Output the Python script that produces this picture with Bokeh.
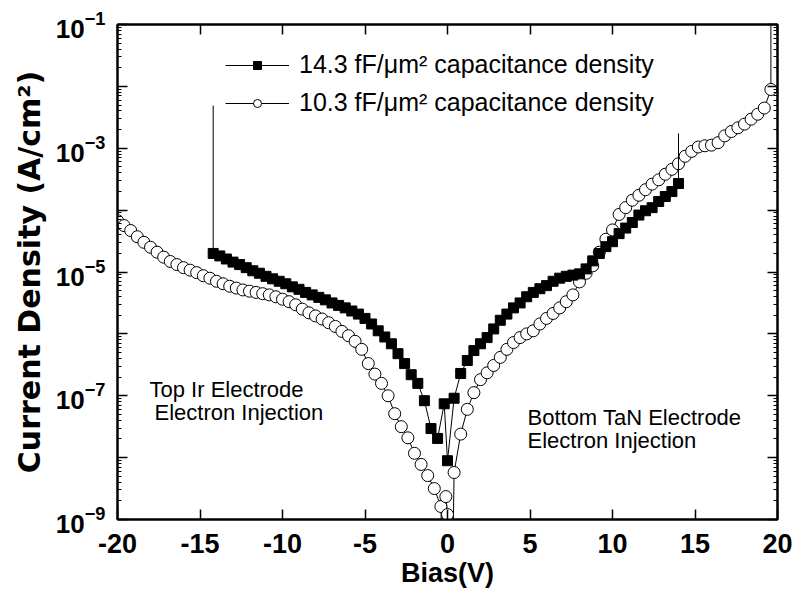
from bokeh.plotting import figure
from bokeh.models import (Range1d, LogAxis, LinearAxis, FixedTicker, Label,
                          Legend, LegendItem)
from bokeh.embed import file_html
from bokeh.resources import INLINE

# ---------------- data ----------------
# 14.3 fF/um^2 sample (filled squares): bias (V) and log10(J [A/cm^2])
sq_bias = [-14.2, -13.8, -13.4, -13.0, -12.6, -12.2, -11.8, -11.4, -11.0, -10.6,
           -10.2, -9.8, -9.4, -9.0, -8.6, -8.2, -7.8, -7.4, -7.0, -6.6,
           -6.2, -5.8, -5.4, -5.0, -4.6, -4.2, -3.8, -3.4, -3.0, -2.6,
           -2.2, -1.8, -1.4, -1.0, -0.6, -0.2, 0.0, 0.4, 0.8, 1.2,
           1.6, 2.0, 2.4, 2.8, 3.2, 3.6, 4.0, 4.4, 4.8, 5.2,
           5.6, 6.0, 6.4, 6.8, 7.2, 7.6, 8.0, 8.4, 8.8, 9.2,
           9.6, 10.0, 10.4, 10.8, 11.2, 11.6, 12.0, 12.4, 12.8, 13.2,
           13.6, 14.0]
sq_log_j = [-4.70, -4.74, -4.79, -4.84, -4.88, -4.93, -4.98, -5.02, -5.07, -5.11,
            -5.15, -5.19, -5.24, -5.28, -5.33, -5.37, -5.41, -5.45, -5.50, -5.54,
            -5.58, -5.63, -5.68, -5.75, -5.84, -5.95, -6.05, -6.16, -6.32, -6.48,
            -6.66, -6.80, -7.08, -7.53, -7.69, -7.13, -8.05, -7.04, -6.64, -6.43,
            -6.27, -6.16, -6.06, -5.92, -5.78, -5.68, -5.58, -5.50, -5.40, -5.33,
            -5.27, -5.22, -5.15, -5.10, -5.07, -5.05, -5.03, -4.95, -4.82, -4.70,
            -4.59, -4.51, -4.38, -4.29, -4.20, -4.08, -4.01, -3.96, -3.86, -3.78,
            -3.70, -3.57]
# breakdown excursions of the square trace (line only, no marker)
sq_start_bias, sq_start_log_j = -14.2, -2.31
sq_end_bias, sq_end_log_j = 14.0, -2.76

# 10.3 fF/um^2 sample (open circles)
circ_bias = [-20.0, -19.6, -19.2, -18.8, -18.4, -18.0, -17.6, -17.2, -16.8, -16.4,
             -16.0, -15.6, -15.2, -14.8, -14.4, -14.0, -13.6, -13.2, -12.8, -12.4,
             -12.0, -11.6, -11.2, -10.8, -10.4, -10.0, -9.6, -9.2, -8.8, -8.4,
             -8.0, -7.6, -7.2, -6.8, -6.4, -6.0, -5.6, -5.2, -4.8, -4.4,
             -4.0, -3.6, -3.2, -2.8, -2.4, -2.0, -1.6, -1.2, -0.8, -0.4,
             -0.1, 0.0,
             0.4, 0.8, 1.2, 1.6, 2.0, 2.4, 2.8, 3.2, 3.6, 4.0,
             4.4, 4.8, 5.2, 5.6, 6.0, 6.4, 6.8, 7.2, 7.6, 8.0,
             8.4, 8.8, 9.2, 9.6, 10.0, 10.4, 10.8, 11.2, 11.6, 12.0,
             12.4, 12.8, 13.2, 13.6, 14.0, 14.4, 14.8, 15.2, 15.6, 16.0,
             16.4, 16.8, 17.2, 17.6, 18.0, 18.4, 18.8, 19.2, 19.6]
circ_log_j = [-4.17, -4.25, -4.33, -4.43, -4.52, -4.60, -4.68, -4.76, -4.83, -4.88,
              -4.93, -4.97, -5.01, -5.06, -5.10, -5.15, -5.19, -5.23, -5.26, -5.29,
              -5.31, -5.33, -5.35, -5.37, -5.40, -5.44, -5.48, -5.53, -5.60, -5.66,
              -5.71, -5.76, -5.82, -5.88, -5.96, -6.03, -6.12, -6.25, -6.48, -6.65,
              -6.80, -7.00, -7.29, -7.50, -7.68, -7.93, -8.11, -8.29, -8.50, -8.79,
              -8.63, -8.92,
              -8.24, -7.62, -7.22, -6.95, -6.74, -6.63, -6.51, -6.38, -6.25, -6.14,
              -6.06, -6.00, -5.95, -5.84, -5.75, -5.67, -5.58, -5.48, -5.37, -5.16,
              -5.02, -4.90, -4.68, -4.47, -4.32, -4.07, -3.96, -3.84, -3.76, -3.67,
              -3.58, -3.51, -3.42, -3.34, -3.25, -3.13, -3.05, -2.98, -2.96, -2.95,
              -2.91, -2.80, -2.73, -2.67, -2.61, -2.53, -2.45, -2.35, -2.05]
# off-scale excursions of the circle trace (line only)
circ_dip_bias = [-0.3, 0.3]
circ_dip_log_j = [-10.0, -10.0]
circ_end_bias, circ_end_log_j = 19.6, 0.0

x_ticks = [-20, -15, -10, -5, 0, 5, 10, 15, 20]
x_tick_labels = ["-20", "-15", "-10", "-5", "0", "5", "10", "15", "20"]
y_decades = [-9, -8, -7, -6, -5, -4, -3, -2, -1]
y_labelled = [-9, -7, -5, -3, -1]

series_labels = ["14.3 fF/\u03bcm\u00b2 capacitance density",
                 "10.3 fF/\u03bcm\u00b2 capacitance density"]
left_note = ["Top Ir Electrode", "Electron Injection"]
right_note = ["Bottom TaN Electrode", "Electron Injection"]

# ---------------- build paths ----------------
sq_j = [10 ** v for v in sq_log_j]
circ_j = [10 ** v for v in circ_log_j]

sq_path_x = [sq_start_bias] + sq_bias + [sq_end_bias]
sq_path_y = [10 ** sq_start_log_j] + sq_j + [10 ** sq_end_log_j]

circ_pts = list(zip(circ_bias, circ_j)) + list(zip(circ_dip_bias, [10 ** v for v in circ_dip_log_j]))
circ_pts = sorted(circ_pts, key=lambda t: t[0])
circ_pts.append((circ_end_bias, 10 ** circ_end_log_j))
circ_path_x = [t[0] for t in circ_pts]
circ_path_y = [t[1] for t in circ_pts]

FONT = "Liberation Sans"

p = figure(width=795, height=592, x_range=Range1d(-20, 20), y_range=Range1d(1e-9, 1e-1),
           y_axis_type="log", output_backend="svg", toolbar_location=None,
           min_border_left=117, min_border_right=18, min_border_top=24, min_border_bottom=73)
p.grid.visible = False
p.outline_line_color = "black"
p.outline_line_width = 2
p.background_fill_color = "white"
p.border_fill_color = "white"

# circles
c_line = p.line(circ_path_x, circ_path_y, line_color="black", line_width=1)
c_pts = p.scatter(circ_bias, circ_j, marker="circle", size=12, fill_color="white",
                  line_color="black", line_width=1)
# squares
s_line = p.line(sq_path_x, sq_path_y, line_color="black", line_width=1)
s_pts = p.scatter(sq_bias, sq_j, marker="square", size=10, fill_color="black",
                  line_color="black")

# ---------------- axes ----------------
yt = [10.0 ** e for e in y_decades]
ymin = [k * 10.0 ** e for e in y_decades[:-1] for k in range(2, 10)]
overrides = {10.0 ** e: "" for e in y_decades if e not in y_labelled}

def style_axis(ax, size="26px"):
    ax.axis_line_width = 2
    ax.major_tick_in = 10
    ax.major_tick_out = 0
    ax.major_tick_line_width = 1.5
    ax.minor_tick_in = 4
    ax.minor_tick_out = 0
    ax.minor_tick_line_width = 1
    ax.major_label_text_font = FONT
    ax.major_label_text_font_style = "bold"
    ax.major_label_text_font_size = size
    ax.major_label_text_color = "black"
    ax.axis_label_text_font = FONT
    ax.axis_label_text_font_style = "bold"
    ax.axis_label_text_color = "black"

yax = p.yaxis[0]
yax.ticker = FixedTicker(ticks=yt, minor_ticks=ymin)
yax.major_label_overrides = overrides
style_axis(yax, "26px")
yax.major_label_standoff = 12
yax.axis_label = "Current Density (A/cm\u00b2)"
yax.axis_label_text_font = "DejaVu Sans"
yax.axis_label_text_font_size = "30px"
yax.axis_label_standoff = 6

xax = p.xaxis[0]
xax.ticker = FixedTicker(ticks=x_ticks)
xax.major_label_overrides = dict(zip(x_ticks, x_tick_labels))
style_axis(xax, "27px")
xax.major_label_standoff = 14
xax.axis_label = "Bias(V)"
xax.axis_label_text_font_size = "27px"
xax.axis_label_standoff = 2

rax = LogAxis(ticker=FixedTicker(ticks=yt, minor_ticks=ymin))
style_axis(rax)
rax.major_label_overrides = {t: "" for t in yt}
rax.major_label_text_font_size = "1px"
rax.major_label_standoff = 0
p.add_layout(rax, "right")

tax = LinearAxis(ticker=FixedTicker(ticks=x_ticks))
style_axis(tax)
tax.major_label_overrides = {t: "" for t in x_ticks}
tax.major_label_text_font_size = "1px"
tax.major_label_standoff = 0
p.add_layout(tax, "above")

# ---------------- legend ----------------
legend = Legend(items=[LegendItem(label=series_labels[0], renderers=[s_line, s_pts]),
                       LegendItem(label=series_labels[1], renderers=[c_line, c_pts])],
                location=(108, 402), glyph_width=64, glyph_height=20, label_standoff=10,
                spacing=9, padding=0, margin=0, border_line_color=None,
                background_fill_alpha=0, label_text_font=FONT,
                label_text_font_size="25px", label_text_color="black")
p.add_layout(legend)

# ---------------- annotations ----------------
def vx(px):
    return (px - 117) / 16.5 - 20

def jy(py):
    return 10 ** (-1 - (py - 24) / 61.875)

for txt, px, py in [(left_note[0], 149, 389), (left_note[1], 154, 412),
                    (right_note[0], 527, 417), (right_note[1], 527, 440)]:
    p.add_layout(Label(x=vx(px), y=jy(py), text=txt, text_font=FONT,
                       text_font_size="22px", text_color="black",
                       text_baseline="alphabetic", text_align="left"))

open("out.html", "w").write(file_html(p, INLINE))
